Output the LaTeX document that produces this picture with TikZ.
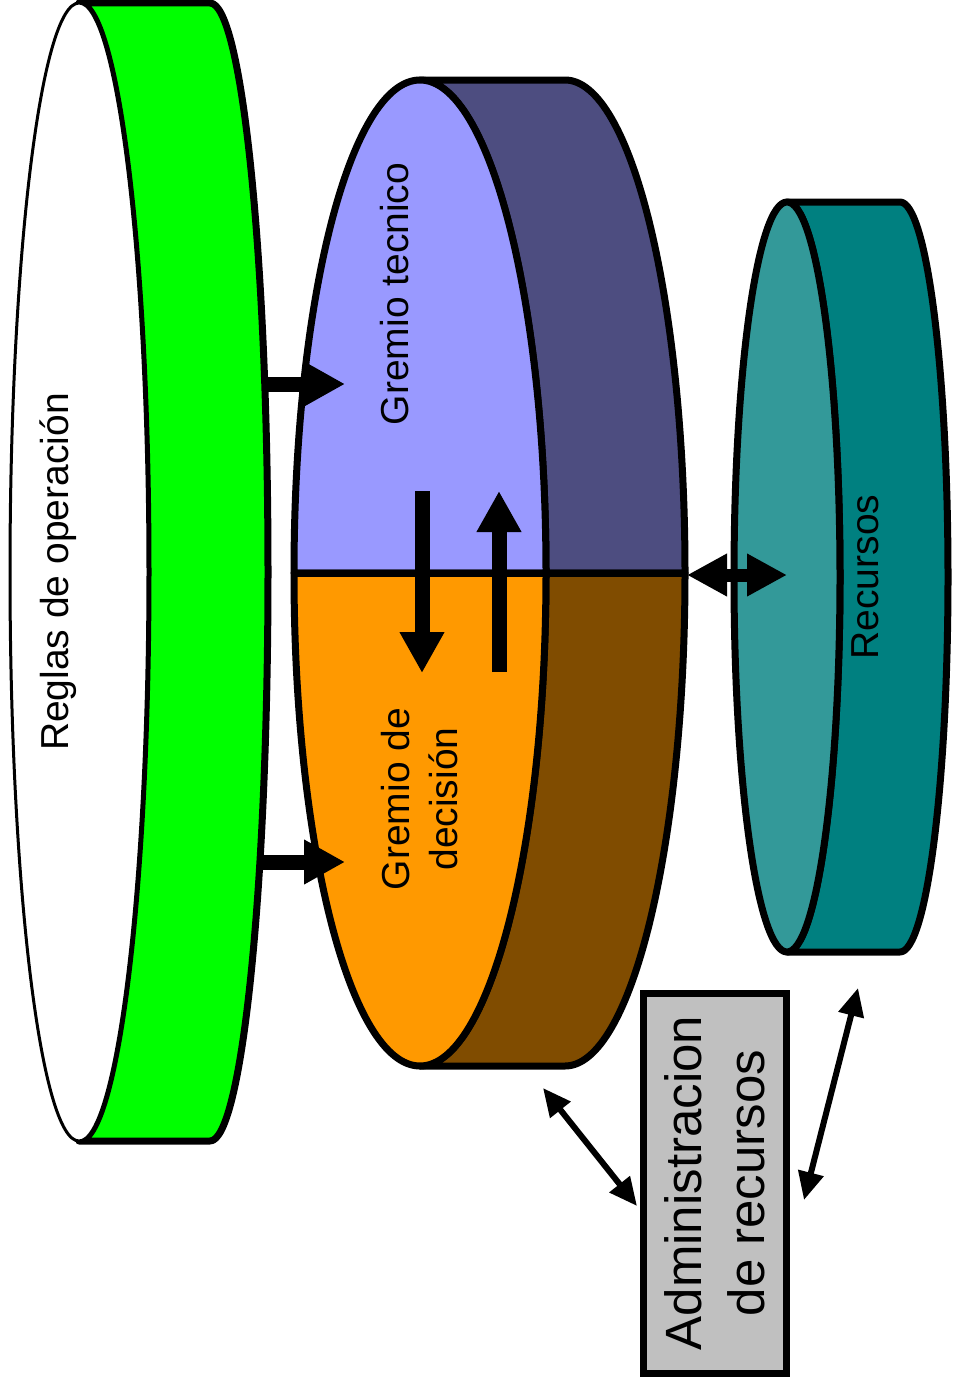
\documentclass[tikz,border=0pt]{standalone}
\usepackage{fontspec}
\setmainfont{Liberation Sans}
\usetikzlibrary{arrows.meta}

\definecolor{lavanda}{HTML}{9999FF}
\definecolor{pizarra}{HTML}{4D4D80}
\definecolor{naranja}{HTML}{FF9900}
\definecolor{cafe}{HTML}{804C00}
\definecolor{verde}{HTML}{00FF00}
\definecolor{tealfront}{HTML}{339999}
\definecolor{tealside}{HTML}{008080}
\definecolor{gris}{HTML}{C0C0C0}

\begin{document}
\begin{tikzpicture}[x=1pt,y=-1pt,
    borde/.style={draw=black, line width=7pt, line join=round},
    flechota/.style={line width=15pt, -{Triangle[length=41pt,width=42pt]}},
    flechadoble/.style={line width=13pt, {Triangle[length=40pt,width=40pt]}-{Triangle[length=40pt,width=40pt]}},
    flechita/.style={line width=6pt, {Triangle[length=28pt,width=25pt]}-{Triangle[length=28pt,width=25pt]}},
    etiqueta/.style={rotate=90, font=\fontsize{39}{48}\selectfont, align=center, inner sep=0pt}]
      % \draw[help lines, gray!50, very thin] (0,0) grid[step=50] (953,1389);
      \useasboundingbox (0,0) rectangle (953,1389);

      % reglas (verde)
      \draw[borde, fill=verde] (79,3) -- (210,3) arc[start angle=-90, end angle=90, x radius=58, y radius=569]
        -- (79,1141) arc[start angle=90, end angle=-90, x radius=69, y radius=569] -- cycle;
      \draw[line width=3pt, fill=white] (79,572) ellipse[x radius=69, y radius=569];
      \node[etiqueta] (reglas) at (58,572) {Reglas de operación};

      % gremios
      \draw[borde, fill=pizarra] (420,80) -- (565,80) arc[start angle=-90, end angle=0, x radius=120, y radius=493]
        -- (546,573) arc[start angle=0, end angle=-90, x radius=126, y radius=493] -- cycle;
      \draw[borde, fill=cafe] (546,573) -- (685,573) arc[start angle=0, end angle=90, x radius=120, y radius=493]
        -- (420,1066) arc[start angle=90, end angle=0, x radius=126, y radius=493] -- cycle;
      \draw[borde, fill=lavanda] (294,573) arc[start angle=180, end angle=360, x radius=126, y radius=493] -- cycle;
      \draw[borde, fill=naranja] (546,573) arc[start angle=0, end angle=180, x radius=126, y radius=493] -- cycle;
      \draw[borde] (294,573) -- (685,573);
      \node[etiqueta] (tecnico) at (395,294) {Gremio tecnico};
      \node[etiqueta] (decision) at (420,799) {Gremio de\\decisión};

      % recursos (teal)
      \draw[borde, fill=tealside] (787,202) -- (900,202) arc[start angle=-90, end angle=90, x radius=48, y radius=375]
        -- (787,952) arc[start angle=90, end angle=-90, x radius=53, y radius=375] -- cycle;
      \draw[borde, fill=tealfront] (787,577) ellipse[x radius=53, y radius=375];
      \node[etiqueta] (recursos) at (865,577) {Recursos};

      % administracion
      \node[draw, line width=7pt, fill=gris, rotate=90, minimum width=380pt, minimum height=143pt,
        font=\fontsize{51}{63}\selectfont, align=center, inner sep=0pt] (admin) at (715,1183)
        {Administracion\\de recursos};

      % flechas
      \coordinate (r1) at (263,384);
      \coordinate (t1) at (345,384);
      \coordinate (r2) at (263,862);
      \coordinate (t2) at (345,862);
      \draw[flechota] (r1) -- (t1);
      \draw[flechota] (r2) -- (t2);

      \coordinate (bajaA) at (422,491);
      \coordinate (bajaB) at (422,673);
      \coordinate (subeA) at (499,672);
      \coordinate (subeB) at (499,491);
      \draw[flechota] (bajaA) -- (bajaB);
      \draw[flechota] (subeA) -- (subeB);

      \coordinate (g1) at (687,575);
      \coordinate (rec1) at (787,575);
      \draw[flechadoble] (g1) -- (rec1);

      \coordinate (g2) at (543,1088);
      \coordinate (adm1) at (637,1206);
      \draw[flechita] (g2) -- (adm1);

      \coordinate (rec2) at (858,988);
      \coordinate (adm2) at (804,1200);
      \draw[flechita] (rec2) -- (adm2);
    \end{tikzpicture}
\end{document}
